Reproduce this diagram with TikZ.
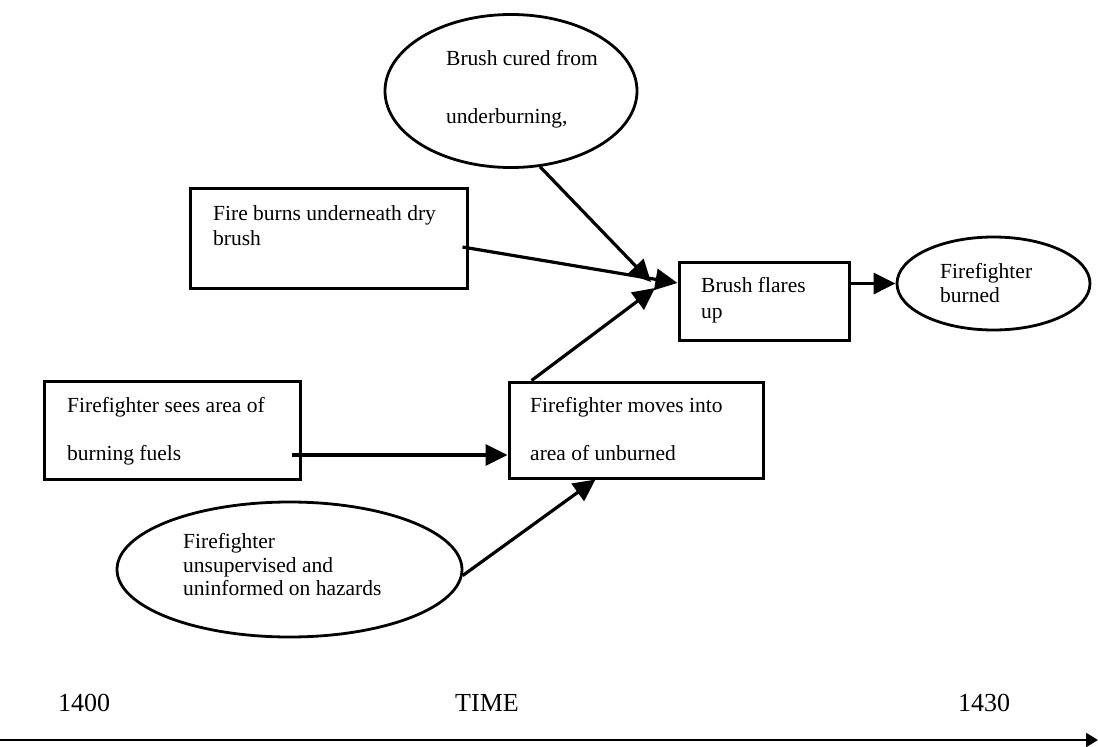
\documentclass[tikz,border=0pt]{standalone}
\usepackage{fontspec}
\setmainfont{Liberation Serif}
\usetikzlibrary{shapes.geometric,arrows.meta,calc}
\begin{document}
\begin{tikzpicture}[x=1pt,y=-1pt,
  box/.style={draw, line width=3pt, inner sep=0pt},
  oval/.style={draw, ellipse, line width=2.8pt, inner sep=0pt},
  % multi-line texts are placed by the baseline of their last line
  txt/.style={inner sep=0pt, anchor=base west, align=left, font=\fontsize{21.5}{25}\selectfont},
  flow/.style={line width=3.2pt, -{Triangle[length=22pt,width=21pt]}},
  tick/.style={inner sep=0pt, font=\fontsize{26}{30}\selectfont},
  axis/.style={line width=2.4pt, -{Triangle[length=12pt,width=14pt]}}]
\useasboundingbox (0,0) rectangle (1098,747);

% causes and events
\node[oval, minimum width=252pt, minimum height=153pt] (cured) at (511,91) {};
\node[txt] (curedtxt) at (446,123) {Brush cured from\\[33pt]underburning,};

\node[box, minimum width=277pt, minimum height=100pt] (fire) at (328.5,238) {};
\node[txt] (firetxt) at (213,245) {Fire burns underneath dry\\brush};

\node[box, minimum width=170pt, minimum height=78pt] (flare) at (764,301) {};
\node[txt] (flaretxt) at (701,318) {Brush flares\\[1pt]up};

\node[oval, minimum width=193pt, minimum height=93pt] (burned) at (993.5,283.5) {};
\node[txt] (burnedtxt) at (940,302) {Firefighter\\[-1pt]burned};

\node[box, minimum width=256pt, minimum height=98pt] (sees) at (172,430) {};
\node[txt] (seestxt) at (67,460) {Firefighter sees area of\\[23pt]burning fuels};

\node[box, minimum width=254pt, minimum height=96pt] (moves) at (636,430) {};
\node[txt] (movestxt) at (530,460) {Firefighter moves into\\[23pt]area of unburned};

\node[oval, minimum width=345pt, minimum height=135pt] (hz) at (289.5,569.5) {};
\node[txt] (hztxt) at (183,595) {Firefighter\\[-1pt]unsupervised and\\[-2pt]uninformed on hazards};

% arrow ends that stop short of the box
\coordinate (j1) at (651,282);
\coordinate (j2) at (655,288);

\draw[flow] (cured.-69) -- (j1);
\draw[flow] ($(fire.east)+(-6,9)$) -- ($(flare.west)+(0,-18)$);
\draw[flow] ($(moves.north west)+(24,0)$) -- (j2);
\draw[flow] (flare.east |- burned.west) -- (burned.west);
\draw[flow] ($(sees.east)+(-10,25)$) -- ($(moves.west)+(0,25)$);
\draw[flow] (hz.-2) -- ($(moves.south west)+(88,0)$);

% time axis
\node[tick] (t0) at (84,703) {1400};
\node[tick] (tm) at (487,703) {TIME};
\node[tick] (t1) at (984,703) {1430};
\coordinate (a0) at (0,740);
\coordinate (a1) at (1098,740);
\draw[axis] (a0) -- (a1);
\end{tikzpicture}
\end{document}
